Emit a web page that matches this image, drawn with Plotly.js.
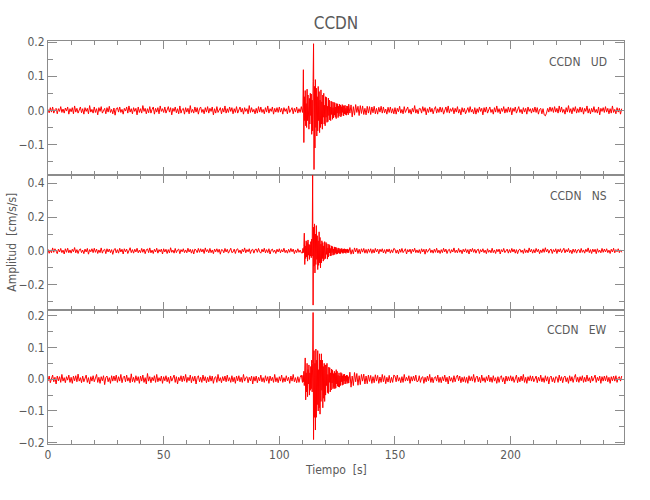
<!DOCTYPE html>
<html>
<head>
<meta charset="utf-8">
<script src="https://cdn.plot.ly/plotly-3.0.1.min.js"></script>
<style>html,body{margin:0;padding:0;background:#fff;}#chart{width:650px;height:500px;}</style>
</head>
<body>
<div id="chart"></div>
<script>
// Station and components
const station = "CCDN";
const components = ["UD", "NS", "EW"];
// Digitised in three windows: 0-110 s and 130-248 s every 0.5 s, event window 110-130 s every 0.2 s
const preStart = 0, evtStart = 110, postStart = 130;
const dtCoarse = 0.5, dtFine = 0.2;

// ---------- UD (cm/s/s) ----------
const udPre = [
.003,-.007,.008,-.005,.01,-.008,.002,.006,-.01,.005,-.003,.011,-.006,.004,-.008,.007,-.002,.01,-.011,.005,
-.004,.008,-.01,.013,-.005,.006,-.008,.003,.01,-.007,.005,-.011,.008,-.003,.006,-.01,.014,-.005,.003,-.008,
.01,-.006,.005,-.013,.008,-.003,.011,-.008,.002,.006,-.01,.008,-.005,.012,-.006,.003,-.01,.007,-.014,.005,
.008,-.005,.01,-.006,.003,-.011,.006,-.002,.01,-.008,.013,-.005,.005,-.01,.008,-.003,.006,-.013,.01,-.006,
.005,-.008,.014,-.003,.006,-.01,.005,-.007,.011,-.008,.003,.01,-.011,.006,-.005,.008,-.01,.013,-.003,.005,
-.006,.01,-.008,.003,.011,-.005,.008,-.013,.006,-.003,.01,-.007,.005,-.01,.013,-.008,.003,.006,-.011,.008,
-.005,.006,-.01,.014,-.006,.003,-.008,.01,-.005,.008,-.011,.005,.01,-.006,.003,-.01,.008,-.005,.011,-.008,
.006,-.003,.01,-.013,.005,-.008,.011,-.006,.003,.008,-.01,.006,-.005,.013,-.008,.005,-.006,.01,-.003,.008,
-.01,.005,-.006,.011,-.008,.003,.01,-.005,.006,-.011,.008,-.003,.005,-.01,.014,-.006,.008,-.005,.003,-.01,
.006,-.008,.011,-.005,.01,-.006,.003,-.01,.008,-.005,.013,-.008,.005,-.003,.01,-.011,.006,-.005,.008,-.006,
.01,-.005,.006,-.011,.008,-.003,.005,-.01,.013,-.006,.003,.008,-.01,.006,-.005,.01,-.008,.005,-.006,.011
];
const udEvt = [
-.006,.01,.119,-.094,.04,-.03,.058,-.045,.02,-.05,
.062,-.03,.045,-.02,-.055,.035,-.04,.05,-.015,.048,
-.07,.03,-.06,.085,.195,-.173,.07,-.11,.09,-.05,
.065,-.075,.04,-.06,.07,-.03,.055,-.065,.03,-.05,
.06,-.04,.025,-.055,.045,-.02,.05,-.04,.015,-.045,
.04,-.02,.038,-.035,.012,-.033,.036,-.015,.03,-.028,
.01,-.03,.027,-.012,.025,-.026,.008,-.022,.024,-.014,
.022,-.02,.01,-.024,.02,-.008,.019,-.021,.012,-.017,
.018,-.009,.016,-.019,.011,-.015,.017,-.006,.014,-.016,
.013,-.01,.015,-.012,.006,-.014,.013,-.008,.012,-.013
];
const udPost = [
.018,-.008,.016,-.019,.011,-.014,.017,-.006,.012,-.015,.014,-.009,.013,-.012,.006,-.013,.012,-.008,.011,-.012,
.01,-.007,.012,-.01,.006,-.011,.009,-.005,.012,-.008,.01,-.007,.004,-.011,.009,-.006,.01,-.008,.005,-.01,
.008,-.011,.006,-.004,.012,-.008,.003,-.01,.011,-.006,.005,.01,-.008,.003,-.011,.006,-.005,.014,-.008,.003,
-.01,.006,.005,-.008,.011,-.003,.008,-.013,.005,-.006,.01,-.005,.006,-.01,.003,.011,-.008,.005,-.006,.01,
-.005,.008,-.011,.003,.01,-.006,.013,-.008,.005,-.003,.008,-.01,.006,-.005,.011,-.008,.003,-.013,.008,-.005,
.006,-.01,.003,.008,-.006,.011,-.005,.003,-.01,.008,-.011,.005,-.006,.01,-.003,.006,-.013,.008,-.005,.01,
-.008,.005,.01,-.006,.003,-.011,.008,-.005,.013,-.006,.005,-.01,.006,-.003,.011,-.008,.005,-.006,.01,-.005,
.008,-.013,.006,-.003,.01,-.008,.005,.011,-.006,.003,-.01,.008,-.005,.006,-.011,.01,-.003,.005,-.008,.006,
-.005,.01,-.006,.008,-.011,.003,.006,-.01,.005,-.013,-.016,-.008,.006,-.005,.01,-.003,.008,-.006,.011,-.005,
.006,-.008,.013,-.005,.01,-.006,.003,-.011,.008,-.005,.014,-.006,.005,-.01,.008,-.003,.011,-.008,.005,-.006,
.01,-.005,.008,-.011,.006,-.003,.013,-.008,.005,-.01,.006,-.005,.011,-.006,.003,-.008,.01,-.013,.006,-.003,
.008,-.006,.011,-.005,.006,-.01,.005,-.008,.013,-.006,.003,-.01,.008,-.005,.006,-.011,.005
];

// ---------- NS (cm/s/s) ----------
const nsPre = [
.01,-.014,.006,-.011,.018,-.008,.013,-.005,-.016,.011,-.006,.015,-.01,.005,-.018,.013,-.008,.016,-.011,.006,
-.013,.01,-.005,.02,-.011,.008,-.015,.006,.013,-.01,.005,-.016,.011,-.006,.015,-.019,.008,-.005,.013,-.01,
.016,-.008,.011,-.015,.006,-.01,.018,-.013,.005,.01,-.016,.013,-.006,.011,-.01,.008,-.02,.006,.015,-.011,
.008,-.013,.016,-.006,.01,-.018,.013,-.005,.011,-.015,.006,.019,-.01,.008,-.013,.01,-.006,.016,-.011,.005,
-.01,.015,-.008,.011,-.016,.006,.013,-.01,.018,-.011,.005,-.015,.01,-.006,.016,-.013,.008,-.005,.011,-.018,
.013,-.006,.01,-.015,.008,-.011,.019,-.008,.005,-.013,.015,-.01,.006,.011,-.016,.008,-.005,.013,-.01,.006,
-.011,.016,-.006,.01,-.013,.008,-.018,.011,.005,-.01,.015,-.008,.013,-.006,.01,-.015,.018,-.005,.008,-.011,
.015,-.01,.006,-.016,.011,-.005,.013,-.008,.01,-.019,.008,.006,-.011,.015,-.006,.01,-.013,.005,.016,-.01,
-.006,.011,-.015,.008,.013,-.01,.005,-.016,.01,-.006,.018,-.011,.008,-.005,.013,-.015,.006,.01,-.013,.008,
.011,-.008,.015,-.005,-.013,.01,-.006,.016,-.011,.008,-.01,.013,-.018,.006,.011,-.008,.005,-.015,.01,-.006,
.013,-.011,.008,-.006,.016,-.01,.005,-.013,.01,-.008,.015,-.005,.011,-.016,.006,-.01,.013,-.008,.005,-.011
];
const nsEvt = [
-.012,.015,-.01,.025,.105,-.08,.03,-.045,.06,-.035,
.05,-.06,.065,-.025,.04,-.05,.035,-.03,.055,-.04,
.07,-.03,.46,-.32,.14,-.09,.16,-.13,.1,-.08,
.15,-.05,.09,-.11,.06,-.085,.113,-.07,.08,-.1,
.04,-.07,.06,-.045,.05,-.06,.03,-.05,.055,-.035,
-.045,.05,-.02,.042,-.048,.018,-.036,.04,-.012,.034,
-.03,.015,-.028,.03,-.01,.026,-.025,.012,-.022,.024,
-.02,.022,-.012,.02,-.019,.008,-.017,.018,-.01,.016,
-.015,.01,-.016,.013,-.007,.015,-.013,.009,-.014,.012,
-.008,.013,-.012,.01,-.014,.009,-.006,.012,-.011,.008
];
const nsPost = [
-.01,.02,-.019,.008,-.017,.018,-.006,.016,-.015,.01,-.016,.013,-.007,.015,-.013,.009,-.014,.012,-.008,.013,
-.014,.009,-.012,.015,-.006,.011,-.016,.01,-.005,.013,-.012,.008,-.015,.011,-.006,.012,-.013,.007,-.01,.015,
.01,-.013,.006,-.016,.011,-.008,.015,-.01,.005,.013,-.018,.008,-.006,.011,-.015,.01,-.005,.016,-.01,.006,
-.011,.008,-.015,.013,-.006,.01,-.019,.011,-.008,.005,.015,-.01,.006,-.013,.01,-.008,.016,-.011,.005,-.015,
.008,-.01,.016,-.006,.011,-.015,.005,.01,-.013,.008,-.006,.018,-.01,.005,-.011,.015,-.008,.006,-.016,.01,
-.006,.013,-.01,.008,-.018,.011,-.005,.015,-.008,.01,-.013,.006,.011,-.015,.008,-.006,.013,-.01,.005,-.016,
.013,-.008,.005,-.011,.016,-.01,.006,-.015,.01,-.005,.011,-.018,.008,-.006,.015,-.01,.005,.011,-.013,.008,
-.01,.015,-.006,.01,-.013,.008,-.016,.006,.011,-.008,.005,-.015,.013,-.01,.006,-.011,.018,-.006,.01,-.013,
.008,-.011,.015,-.005,.01,-.016,.006,-.01,.013,-.008,.019,-.006,.01,-.013,.005,.011,-.015,.008,-.006,.013,
-.015,.01,-.006,.013,-.01,.005,.016,-.011,.008,-.006,.015,-.01,.005,-.016,.011,-.008,.01,-.013,.006,.008,
-.011,.015,-.008,.006,-.013,.01,-.005,.018,-.01,.008,-.015,.011,-.006,.01,-.016,.013,-.008,.005,-.011,.015,
-.008,.011,-.006,.013,-.01,.005,-.015,.01,-.006,.016,-.011,.008,-.005,.013,-.01,.006,-.008
];

// ---------- EW (cm/s/s) ----------
const ewPre = [
-.006,.01,-.011,.005,.013,-.008,.006,-.015,.01,-.005,.008,-.01,.015,-.006,.005,-.011,.008,-.003,.013,-.01,
.006,-.013,.01,-.005,.011,-.008,.016,-.006,.005,-.011,.01,-.008,.006,.013,-.01,.005,-.015,.008,-.006,.011,
-.008,.005,.015,-.01,.006,-.013,.008,-.005,.011,-.017,.006,.01,-.008,.005,-.013,.011,-.006,.01,-.005,.013,
-.01,.008,-.006,.015,-.011,.005,.01,-.008,.013,-.006,.005,-.011,.017,-.008,.006,-.01,.011,-.005,.008,-.013,
.01,-.006,.013,-.01,.005,-.015,.018,-.006,.008,-.011,.006,-.005,.011,-.01,.015,-.008,.005,-.006,.01,-.013,
.008,-.005,.011,-.008,.006,-.013,.01,-.006,.005,.013,-.01,.008,-.015,.006,-.005,.011,-.008,.01,-.006,.015,
-.01,.006,-.005,.013,-.011,.008,-.006,.01,-.015,.005,.011,-.008,.006,-.01,.013,-.005,.008,-.011,.006,-.008,
.011,-.006,.01,-.013,.005,.008,-.01,.015,-.006,.005,-.011,.008,-.005,.01,-.008,.013,-.006,.005,-.01,.011,
-.008,.006,-.013,.01,-.005,.011,-.008,.006,-.01,.015,-.006,.005,.008,-.011,.006,-.005,.01,-.015,.008,-.006,
.01,-.011,.006,-.005,.013,-.008,.005,-.01,.011,-.006,.008,-.013,.01,-.005,.006,-.01,.015,-.008,.005,-.011,
.008,-.006,.013,-.01,.005,-.008,.011,-.005,.006,-.013,.01,-.006,.015,-.008,.005,-.011,.008,-.01,.006,.013
];
const ewEvt = [
-.01,.012,-.008,.025,-.02,.03,.067,-.065,.02,-.04,
.05,-.055,.03,-.015,.045,-.05,.02,-.035,.04,-.03,
.06,-.04,.05,.21,-.19,.09,-.12,.05,-.16,.095,
-.12,.06,-.08,.09,-.1,.03,-.09,.08,-.11,.06,
-.07,.08,-.035,.06,-.09,.04,-.06,.05,-.07,.045,
-.05,.045,-.02,.05,-.042,.015,-.045,.038,-.01,.036,
-.04,.02,-.034,.032,-.012,.028,-.03,.018,-.026,.025,
-.03,.02,-.028,.03,-.015,.025,-.022,.012,-.024,.02,
-.025,.01,-.02,.021,-.008,.018,-.019,.011,-.017,.015,
-.006,.016,-.015,.01,-.014,.013,-.007,.012,-.013,.008
];
const ewPost = [
-.012,.022,-.025,.01,-.02,.021,-.008,.018,-.019,.011,-.017,.015,-.006,.016,-.015,.01,-.014,.013,-.007,.012,
-.013,.008,-.011,.014,-.006,.012,-.013,.007,-.01,.015,-.008,.011,-.014,.006,-.009,.012,-.011,.006,-.01,.013,
.01,-.008,.013,-.006,.005,-.011,.008,-.01,.015,-.006,.006,-.005,.011,-.013,.008,-.006,.01,-.005,.013,-.008,
-.006,.011,-.01,.005,.008,-.013,.006,-.008,.01,-.005,.015,-.01,.006,-.011,.005,.008,-.006,.013,-.01,.006,
-.011,.008,-.005,.013,-.008,.006,-.015,.01,-.006,.005,-.01,.011,-.008,.006,.013,-.005,.01,-.011,.006,-.008,
.008,-.01,.006,-.013,.011,-.005,.008,-.006,.015,-.01,.005,.01,-.008,.006,-.011,.013,-.006,.005,-.01,.008,
-.005,.013,-.008,.006,-.01,.011,-.006,.005,-.013,.008,-.01,.006,.011,-.008,.005,-.015,.01,-.006,.008,-.005,
.011,-.006,.008,-.01,.005,.013,-.011,.006,-.008,.01,-.005,.015,-.01,.006,-.013,.008,-.005,.011,-.006,.01,
-.008,.005,.01,-.011,.006,-.006,.013,-.008,.005,-.01,.011,-.006,.008,-.015,.006,.01,-.008,.005,-.011,.008,
.006,-.01,.013,-.005,.008,-.011,.006,.01,-.008,.005,-.013,.011,-.006,.008,-.01,.005,.015,-.008,.006,-.01,
.008,-.005,.011,-.01,.006,-.008,.013,-.006,.005,-.011,.01,-.006,.008,.013,-.01,.006,-.005,.01,-.013,.008,
-.006,.01,-.005,.011,-.008,.006,-.013,.008,-.005,.01,-.006,.011,-.01,.005,.008,-.006,.01
];

const xTickVals = [0, 50, 100, 150, 200];
const xTickText = ["0", "50", "100", "150", "200"];

// Assemble one trace from its three sampled windows
function assemble(pre, evt, post) {
  const parts = [[preStart, dtCoarse, pre], [evtStart, dtFine, evt], [postStart, dtCoarse, post]];
  const x = [], y = [];
  parts.forEach(([t0, step, vals]) => vals.forEach((v, i) => { x.push(t0 + i * step); y.push(v); }));
  return {x, y};
}

const FONT = "'Liberation Sans Narrow', 'DejaVu Sans Condensed', 'Liberation Sans', sans-serif";
const TXT = "#5a5a5a";
const AX = "#8c8c8c";
const RED = "#ff0000";

const series = [assemble(udPre, udEvt, udPost), assemble(nsPre, nsEvt, nsPost), assemble(ewPre, ewEvt, ewPost)];
const axes = [["x", "y"], ["x2", "y2"], ["x3", "y3"]];
const traces = series.map((s, k) => ({
  x: s.x, y: s.y, xaxis: axes[k][0], yaxis: axes[k][1], type: "scatter", mode: "lines",
  line: {color: RED, width: 1}, hoverinfo: "skip"
}));

function xax(anchor, showLabels) {
  return {
    anchor: anchor, domain: [0, 1], range: [0, 249],
    tickmode: "array", tickvals: xTickVals, ticktext: xTickText,
    showticklabels: showLabels, ticks: "inside", ticklen: 8, tickcolor: AX, tickwidth: 1,
    minor: {ticks: "inside", dtick: 10, tick0: 0, ticklen: 4, tickcolor: AX, showgrid: false},
    showline: true, linecolor: AX, linewidth: 1, mirror: "ticks",
    showgrid: false, zeroline: false,
    tickfont: {family: FONT, size: 12, color: TXT}
  };
}
function yax(anchor, domain, range, dtick) {
  return {
    anchor: anchor, domain: domain, range: range,
    tick0: 0, dtick: dtick, tickformat: ".1f",
    ticks: "inside", ticklen: 9, tickcolor: AX, tickwidth: 1,
    minor: {ticks: "inside", dtick: dtick / 2, tick0: 0, ticklen: 5, tickcolor: AX, showgrid: false},
    showline: true, linecolor: AX, linewidth: 1, mirror: "ticks",
    showgrid: false, zeroline: false,
    tickfont: {family: FONT, size: 12, color: TXT}
  };
}

const S = "\u00a0\u00a0\u00a0";
const annFont = {family: FONT, size: 12, color: TXT};
const layout = {
  width: 650, height: 500,
  margin: {l: 48, r: 26, t: 41, b: 56},
  paper_bgcolor: "#fff", plot_bgcolor: "#fff",
  showlegend: false,
  title: {text: station, x: 0.5, xref: "paper", y: 0.954, yref: "container", xanchor: "center", yanchor: "middle",
          font: {family: FONT, size: 17, color: TXT}},
  xaxis: xax("y", false),
  xaxis2: xax("y2", false),
  xaxis3: xax("y3", true),
  yaxis: yax("x", [2/3, 1], [-0.19, 0.203], 0.1),
  yaxis2: yax("x2", [1/3, 2/3], [-0.347, 0.447], 0.2),
  yaxis3: yax("x3", [0, 1/3], [-0.204, 0.219], 0.1),
  annotations: [
    {text: station + S + components[0], xref: "paper", x: 0.974, xanchor: "right", yref: "y domain", y: 0.845, yanchor: "middle", showarrow: false, font: annFont},
    {text: station + S + components[1], xref: "paper", x: 0.974, xanchor: "right", yref: "y2 domain", y: 0.845, yanchor: "middle", showarrow: false, font: annFont},
    {text: station + S + components[2], xref: "paper", x: 0.974, xanchor: "right", yref: "y3 domain", y: 0.845, yanchor: "middle", showarrow: false, font: annFont},
    {text: "Amplitud\u00a0\u00a0[cm/s/s]", xref: "paper", x: -0.064, xanchor: "center", yref: "paper", y: 0.5, yanchor: "middle", textangle: -90, showarrow: false, font: annFont},
    {text: "Tiempo\u00a0\u00a0[s]", xref: "paper", x: 0.5, xanchor: "center", yref: "paper", y: -0.065, yanchor: "middle", showarrow: false, font: annFont}
  ]
};

Plotly.newPlot("chart", traces, layout, {displayModeBar: false, staticPlot: true});
</script>
</body>
</html>
